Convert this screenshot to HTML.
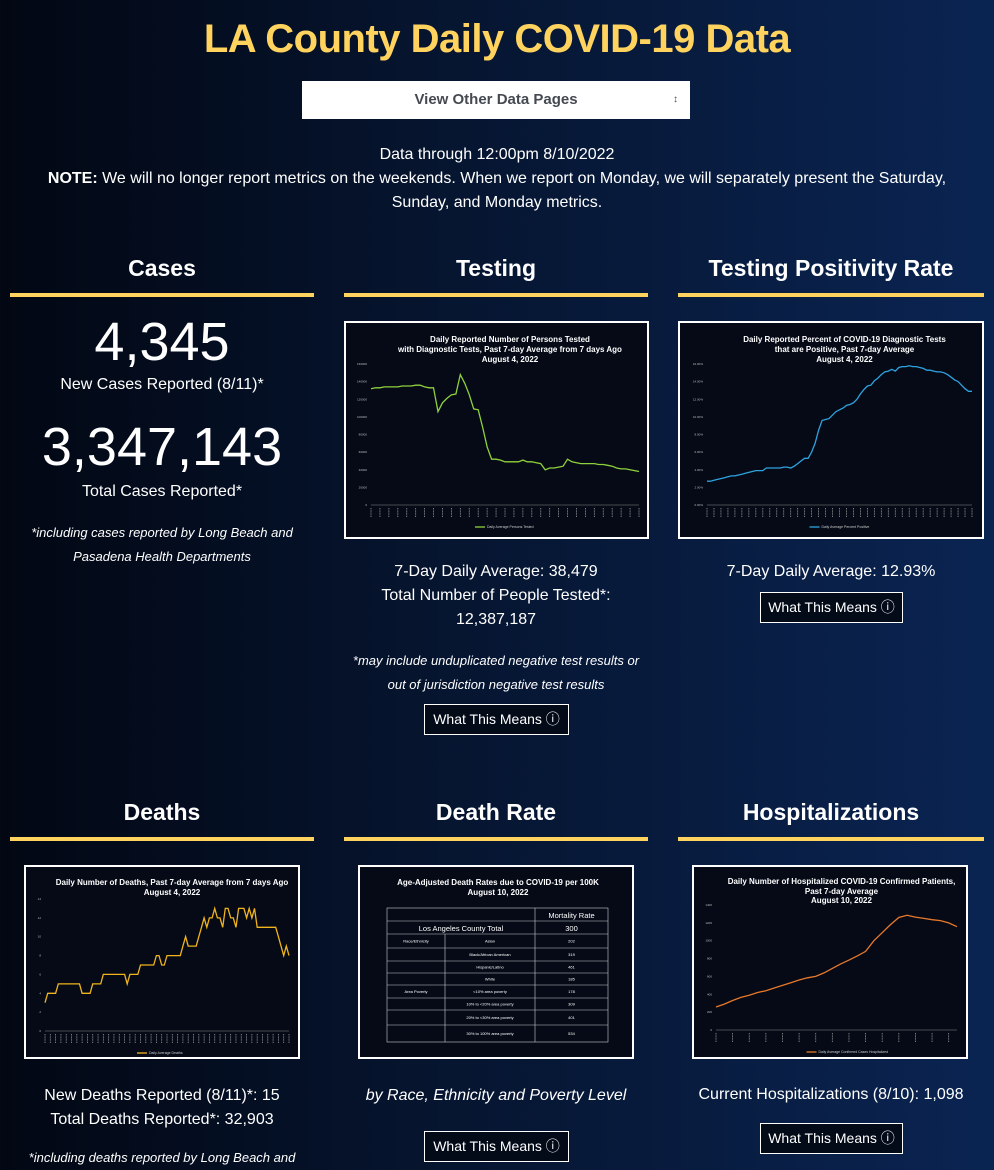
<!DOCTYPE html>
<html><head><meta charset="utf-8">
<style>
html,body{margin:0;padding:0}
body{width:994px;height:1162px;overflow:hidden;position:relative;font-family:"Liberation Sans",sans-serif;color:#fff;
background:linear-gradient(90deg,#020713 0%,#061530 45%,#0a2452 100%);}
.a{position:absolute}
.c{text-align:center}
h1{position:absolute;left:0;width:994px;top:17px;margin:0;text-align:center;color:#ffd35e;font-size:40px;font-weight:bold;letter-spacing:-0.5px}
.sel{left:302px;top:81px;width:388px;height:38px;background:#fff;color:#454a52;font-weight:bold;font-size:15px;line-height:38px}
.h2{font-weight:bold;font-size:23px;width:304px}
.bar{height:4px;background:#ffd35e;width:304px}
.t16{font-size:16px;line-height:24px}
.it{font-style:italic;font-size:13px;line-height:24px}
.btn{border:1px solid #fff;color:#fff;font-size:14px;height:29px;line-height:29px;text-align:center;background:#030a18}
.box{border:2px solid #fff;background:#050a16;box-sizing:border-box}
.big{font-size:54px;line-height:60px}
</style></head><body>
<h1>LA County Daily COVID-19 Data</h1>
<div class="a sel c">View Other Data Pages<span class="a" style="right:12px;top:0;font-size:10px">&#x2195;</span></div>
<div class="a c t16" style="left:0;width:994px;top:143px">Data through 12:00pm 8/10/2022<br><b>NOTE:</b> We will no longer report metrics on the weekends. When we report on Monday, we will separately present the Saturday,<br>Sunday, and Monday metrics.</div>

<div class="a c h2" style="left:10px;top:255px">Cases</div>
<div class="a bar" style="left:10px;top:293px"></div>
<div class="a c h2" style="left:344px;top:255px">Testing</div>
<div class="a bar" style="left:344px;top:293px"></div>
<div class="a c h2" style="left:678px;top:255px;width:306px">Testing Positivity Rate</div>
<div class="a bar" style="left:678px;top:293px;width:306px"></div>

<div class="a c big" style="left:10px;width:304px;top:312px">4,345</div>
<div class="a c t16" style="left:10px;width:304px;top:373px">New Cases Reported (8/11)*</div>
<div class="a c big" style="left:10px;width:304px;top:417px">3,347,143</div>
<div class="a c t16" style="left:10px;width:304px;top:480px">Total Cases Reported*</div>
<div class="a c it" style="left:10px;width:304px;top:521px">*including cases reported by Long Beach and<br>Pasadena Health Departments</div>

<svg class="a box" id="testing" style="left:344px;top:321px" width="305" height="218"></svg>
<svg class="a box" id="positivity" style="left:678px;top:321px" width="306" height="218"></svg>

<div class="a c t16" style="left:344px;width:304px;top:560px">7-Day Daily Average: 38,479<br>Total Number of People Tested*:<br>12,387,187</div>
<div class="a c it" style="left:334px;width:324px;top:649px">*may include unduplicated negative test results or<br>out of jurisdiction negative test results</div>
<div class="a btn" style="left:424px;top:704px;width:143px">What This Means &#x24D8;</div>
<div class="a c t16" style="left:678px;width:306px;top:560px">7-Day Daily Average: 12.93%</div>
<div class="a btn" style="left:760px;top:592px;width:141px">What This Means &#x24D8;</div>

<div class="a c h2" style="left:10px;top:799px">Deaths</div>
<div class="a bar" style="left:10px;top:837px"></div>
<div class="a c h2" style="left:344px;top:799px">Death Rate</div>
<div class="a bar" style="left:344px;top:837px"></div>
<div class="a c h2" style="left:678px;top:799px;width:306px">Hospitalizations</div>
<div class="a bar" style="left:678px;top:837px;width:306px"></div>

<svg class="a box" id="deaths" style="left:24px;top:865px" width="276" height="194"></svg>
<svg class="a box" id="deathrate" style="left:358px;top:865px" width="276" height="194"></svg>
<svg class="a box" id="hosp" style="left:692px;top:865px" width="276" height="194"></svg>

<div class="a c t16" style="left:10px;width:304px;top:1084px">New Deaths Reported (8/11)*: 15<br>Total Deaths Reported*: 32,903</div>
<div class="a c it" style="left:0;width:324px;top:1146px">*including deaths reported by Long Beach and</div>
<div class="a c" style="left:344px;width:304px;top:1084px;font-style:italic;font-size:16px;line-height:24px">by Race, Ethnicity and Poverty Level</div>
<div class="a btn" style="left:424px;top:1131px;width:143px">What This Means &#x24D8;</div>
<div class="a c t16" style="left:678px;width:306px;top:1083px">Current Hospitalizations (8/10): 1,098</div>
<div class="a btn" style="left:760px;top:1123px;width:141px">What This Means &#x24D8;</div>

<script>
const testingValues=[132,133,133,134,134,134,134,135,135,135,136,136,134,133,133,106,116,121,125,126,148,138,125,109,108,88,66,52,52,51,49,49,49,49,51,49,49,48,47,40,42,42,43,44,52,49,48,47,47,47,47,46,46,45,44,42,41,41,40,39,38];
const testingTicks=[0,20,40,60,80,100,120,140,160];
const positivityValues=[2.7,2.7,2.8,2.9,3.0,3.1,3.2,3.3,3.3,3.4,3.5,3.6,3.7,3.8,3.9,3.9,3.9,4.2,4.2,4.2,4.2,4.2,4.3,4.3,4.2,4.4,4.7,5.0,5.3,5.3,6.0,7.0,8.5,9.6,9.7,9.8,10.2,10.6,10.8,11.0,11.3,11.4,11.6,12.0,12.6,13.1,13.5,13.6,14.1,14.4,14.8,15.1,15.2,15.4,15.2,15.6,15.7,15.7,15.8,15.7,15.7,15.6,15.5,15.3,15.3,15.2,15.1,15.1,15.0,14.8,14.5,14.2,14.0,13.6,13.2,12.9,12.9];
const positivityTicks=[0,2,4,6,8,10,12,14,16];
const deathValues=[3,4,4,4,4,5,5,5,5,5,5,5,5,5,4,4,4,4,5,5,5,5,6,6,6,6,6,6,6,6,6,5,6,6,6,6,7,7,7,7,7,7,8,8,7,7,8,8,8,8,8,8,9,10,9,9,9,9,10,11,12,11,12,12,13,12,12,11,13,13,12,12,11,13,13,13,12,13,12,13,11,11,11,11,11,11,11,11,10,9,8,9,8];
const deathTicks=[0,2,4,6,8,10,12,14];
const hospValues=[258,290,330,365,390,420,440,470,500,530,560,585,600,640,690,740,783,830,880,1000,1090,1180,1260,1285,1265,1250,1235,1225,1200,1157];
const hospTicks=[0,200,400,600,800,1000,1200,1400];
const deathRateRows=[["Race/Ethnicity","Asian","202"],["","Black/African American","319"],["","Hispanic/Latino","461"],["","White","185"],["Area Poverty","<10% area poverty","178"],["","10% to <20% area poverty","309"],["","20% to <30% area poverty","401"],["","30% to 100% area poverty","534"]];
const NS="http://www.w3.org/2000/svg";
function mk(p,t,a){const e=document.createElementNS(NS,t);for(const k in a)e.setAttribute(k,a[k]);p.appendChild(e);return e;}
function title(svg,lines,ys,cx){lines.forEach((l,i)=>{const t=mk(svg,'text',{x:cx,y:ys[i],'text-anchor':'middle','font-size':'8','font-weight':'bold',fill:'#fff','font-family':'Liberation Sans, sans-serif'});t.textContent=l;

});}
function lineChart(id,vals,ticks,o){
 const svg=document.getElementById(id);
 const tmax=ticks[ticks.length-1];
 const xs=i=>o.x0+(o.x1-o.x0)*i/(vals.length-1);
 const ys=v=>o.yb-(o.yb-o.yt)*v/tmax;
 title(svg,o.title,o.ty,(o.x0+o.x1)/2+5);
 ticks.forEach(t=>{const e=mk(svg,'text',{x:o.x0-4,y:ys(t)+1,'text-anchor':'end','font-size':'3',fill:'#bbb'});e.textContent=o.fmt(t);
 
 });
 const ax=mk(svg,'line',{x1:o.x0,x2:o.x1,y1:o.yb,y2:o.yb,stroke:'#888','stroke-width':'0.6'});
 
 
 for(let i=0;i<vals.length;i+=2){const e=mk(svg,'line',{x1:xs(i),x2:xs(i),y1:o.yb+3,y2:o.yb+12,stroke:'#999','stroke-width':'0.8','stroke-dasharray':'1 0.6'});
 
 }
 const p=mk(svg,'polyline',{points:vals.map((v,i)=>xs(i).toFixed(1)+','+ys(v).toFixed(1)).join(' '),fill:'none',stroke:o.color,'stroke-width':'1.3'});
 
 
 const lx=(o.x0+o.x1)/2-30, ly=o.yb+22;
 const ll=mk(svg,'line',{x1:lx,x2:lx+10,y1:ly,y2:ly,stroke:o.color,'stroke-width':'1.3'});
 
 
 const lt=mk(svg,'text',{x:lx+12,y:ly+1,'font-size':'3.5',fill:'#ccc'});lt.textContent=o.legend;
 
 
}
lineChart('testing',testingValues,testingTicks,{x0:25,x1:293,yt:41,yb:182,color:'#8fd13c',title:['Daily Reported Number of Persons Tested','with Diagnostic Tests, Past 7-day Average from 7 days Ago','August 4, 2022'],ty:[19,29,39],fmt:t=>t*1000,legend:'Daily Average Persons Tested'});
lineChart('positivity',positivityValues,positivityTicks,{x0:27,x1:292,yt:41,yb:182,color:'#2ea3e0',title:['Daily Reported Percent of COVID-19 Diagnostic Tests','that are Positive, Past 7-day Average','August 4, 2022'],ty:[19,29,39],fmt:t=>t.toFixed(2)+'%',legend:'Daily Average Percent Positive'});
lineChart('deaths',deathValues,deathTicks,{x0:19,x1:263,yt:32,yb:164,color:'#f0b41c',title:['Daily Number of Deaths, Past 7-day Average from 7 days Ago','August 4, 2022'],ty:[18,28],fmt:t=>t,legend:'Daily Average Deaths'});
lineChart('hosp',hospValues,hospTicks,{x0:22,x1:263,yt:38,yb:163,color:'#e8782a',title:['Daily Number of Hospitalized COVID-19 Confirmed Patients,','Past 7-day Average','August 10, 2022'],ty:[17,27,36],fmt:t=>t,legend:'Daily Average Confirmed Cases Hospitalized'});
(function(){
 const svg=document.getElementById('deathrate');
 title(svg,['Age-Adjusted Death Rates due to COVID-19 per 100K','August 10, 2022'],[18,28],138);
 const rows=[41,54,67,81,94,106,118,131,143,158,175];
 const X0=27,X1=248,C1=85,C2=175;
 const g=mk(svg,'g',{stroke:'#ccc','stroke-width':'0.6',fill:'none'});
 mk(g,'rect',{x:X0,y:rows[0],width:X1-X0,height:rows[10]-rows[0]});
 rows.slice(1,10).forEach(y=>mk(g,'line',{x1:X0,x2:X1,y1:y,y2:y}));
 mk(g,'line',{x1:C2,x2:C2,y1:rows[0],y2:rows[10]});
 mk(g,'line',{x1:C1,x2:C1,y1:rows[2],y2:rows[10]});
 const tx=(x,y,s,f,a)=>{const e=mk(svg,'text',{x:x,y:y,'font-size':f,fill:'#fff','text-anchor':a||'middle'});e.textContent=s;
 
 };
 tx((C2+X1)/2,rows[1]-3,'Mortality Rate','7.5');
 tx((X0+C2)/2,rows[2]-3,'Los Angeles County Total','7.5');
 tx((C2+X1)/2,rows[2]-3,'300','7.5');
 deathRateRows.forEach((r,i)=>{const y=(rows[i+2]+rows[i+3])/2+1.5;
  tx((X0+C1)/2,y,r[0],'4');tx((C1+C2)/2,y,r[1],'4');tx((C2+X1)/2,y,r[2],'4');});
})();
</script>
</body></html>
